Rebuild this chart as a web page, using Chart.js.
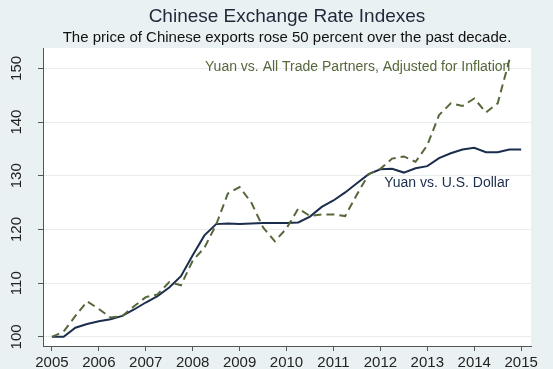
<!DOCTYPE html>
<html>
<head>
<meta charset="utf-8">
<script src="https://cdn.jsdelivr.net/npm/chart.js@4"></script>
<style>
  html, body { margin: 0; padding: 0; background: #eaf1f3; }
  #wrap { width: 553px; height: 369px; }
</style>
</head>
<body>
<div id="wrap"><canvas id="c" width="553" height="369"></canvas></div>
<script>
/* Chinese exchange rate indexes, quarterly, 2005 = 100 */
const usdYears = [2005, 2005.25, 2005.5, 2005.75, 2006, 2006.25, 2006.5, 2006.75, 2007, 2007.25, 2007.5, 2007.75,
  2008, 2008.25, 2008.5, 2008.75, 2009, 2009.25, 2009.5, 2009.75, 2010, 2010.25, 2010.5, 2010.75,
  2011, 2011.25, 2011.5, 2011.75, 2012, 2012.25, 2012.5, 2012.75, 2013, 2013.25, 2013.5, 2013.75,
  2014, 2014.25, 2014.5, 2014.75, 2015];
const usdValues = [100, 100, 101.7, 102.4, 102.9, 103.3, 103.9, 105.1, 106.4, 107.6, 109.2, 111.3,
  115.2, 118.9, 121.0, 121.1, 121.0, 121.1, 121.2, 121.2, 121.2, 121.3, 122.4, 124.2,
  125.4, 126.9, 128.6, 130.3, 131.2, 131.3, 130.6, 131.4, 131.8, 133.3, 134.2, 134.9,
  135.2, 134.4, 134.4, 134.9, 134.9];

const tradeYears = usdYears.slice(0, 40);
const tradeValues = [100, 101.0, 103.9, 106.6, 105.2, 103.6, 103.9, 105.7, 107.4, 107.9, 110.2, 109.6,
  114.2, 116.6, 120.9, 126.7, 127.9, 125.0, 120.4, 117.8, 120.2, 123.9, 122.5, 122.8,
  122.8, 122.5, 126.5, 130.3, 131.3, 133.2, 133.6, 132.6, 135.7, 141.3, 143.5, 143.0,
  144.4, 141.8, 143.5, 151.6];

const xTicks = [2005, 2006, 2007, 2008, 2009, 2010, 2011, 2012, 2013, 2014, 2015];
const yTicks = [100, 110, 120, 130, 140, 150];

const titleText = "Chinese Exchange Rate Indexes";
const subtitleText = "The price of Chinese exports rose 50 percent over the past decade.";
const tradeLabel = "Yuan vs. All Trade Partners, Adjusted for Inflation";
const usdLabel = "Yuan vs. U.S. Dollar";

const NAVY = "#1b2d4c";
const OLIVE = "#56673a";
const FONT = "'Liberation Sans', Arial, sans-serif";

const pts = (xs, ys) => xs.map((x, i) => ({ x, y: ys[i] }));

/* white plot area + rotated y labels + inline series labels */
const plotDecor = {
  id: "plotDecor",
  beforeDraw(chart) {
    const { ctx, chartArea: a } = chart;
    ctx.save();
    ctx.fillStyle = "#ffffff";
    ctx.fillRect(a.left, a.top, a.right - a.left, a.bottom - a.top);
    ctx.restore();
  },
  afterDraw(chart) {
    const { ctx, scales } = chart;
    const y = scales.y, x = scales.x;
    ctx.save();
    ctx.font = "15px " + FONT;
    ctx.fillStyle = "#222";
    ctx.textAlign = "center";
    ctx.textBaseline = "middle";
    yTicks.forEach((v) => {
      ctx.save();
      ctx.translate(y.left + 17, y.getPixelForValue(v));
      ctx.rotate(-Math.PI / 2);
      ctx.fillText(String(v), 0, 0);
      ctx.restore();
    });
    ctx.font = "14px " + FONT;
    ctx.textAlign = "right";
    ctx.fillStyle = OLIVE;
    ctx.fillText(tradeLabel, x.getPixelForValue(2014.77), y.getPixelForValue(150.2));
    ctx.fillStyle = NAVY;
    ctx.fillText(usdLabel, x.getPixelForValue(2014.75), y.getPixelForValue(128.7));
    ctx.restore();
  },
};

new Chart(document.getElementById("c"), {
  type: "line",
  data: {
    datasets: [
      { label: tradeLabel, data: pts(tradeYears, tradeValues), borderColor: OLIVE, borderWidth: 2,
        borderDash: [8, 5], pointRadius: 0, tension: 0, fill: false },
      { label: usdLabel, data: pts(usdYears, usdValues), borderColor: NAVY, borderWidth: 2,
        pointRadius: 0, tension: 0, fill: false },
    ],
  },
  options: {
    responsive: false,
    animation: false,
    layout: { padding: { left: 0, right: 22, top: 0, bottom: 0 } },
    plugins: {
      legend: { display: false },
      tooltip: { enabled: false },
      title: { display: true, text: titleText, fullSize: false, color: "#1e2838",
        font: { family: FONT, size: 19, weight: "normal" }, padding: { top: 5, bottom: 0 } },
      subtitle: { display: true, text: subtitleText, fullSize: false, color: "#111",
        font: { family: FONT, size: 15 }, padding: { top: 1, bottom: 1.2 } },
    },
    scales: {
      x: {
        type: "linear", min: 2004.81, max: 2015.21,
        afterBuildTicks: (s) => { s.ticks = xTicks.map((v) => ({ value: v })); },
        afterFit: (s) => { s.height = 23; },
        border: { color: "#555", width: 1 },
        grid: { drawOnChartArea: false, drawTicks: true, tickLength: 5, color: "#555" },
        ticks: { color: "#222", padding: 3, maxRotation: 0, font: { family: FONT, size: 15 },
          callback: (v) => String(v) },
      },
      y: {
        type: "linear", min: 98.3, max: 153.8,
        afterBuildTicks: (s) => { s.ticks = yTicks.map((v) => ({ value: v })); },
        afterFit: (s) => { s.width = 43; },
        border: { color: "#555", width: 1 },
        grid: { color: "#e9ecec", tickColor: "#555", tickLength: 5, drawTicks: true },
        ticks: { display: true, color: "rgba(0,0,0,0)", font: { family: FONT, size: 14 } },
      },
    },
  },
  plugins: [plotDecor],
});
</script>
</body>
</html>
